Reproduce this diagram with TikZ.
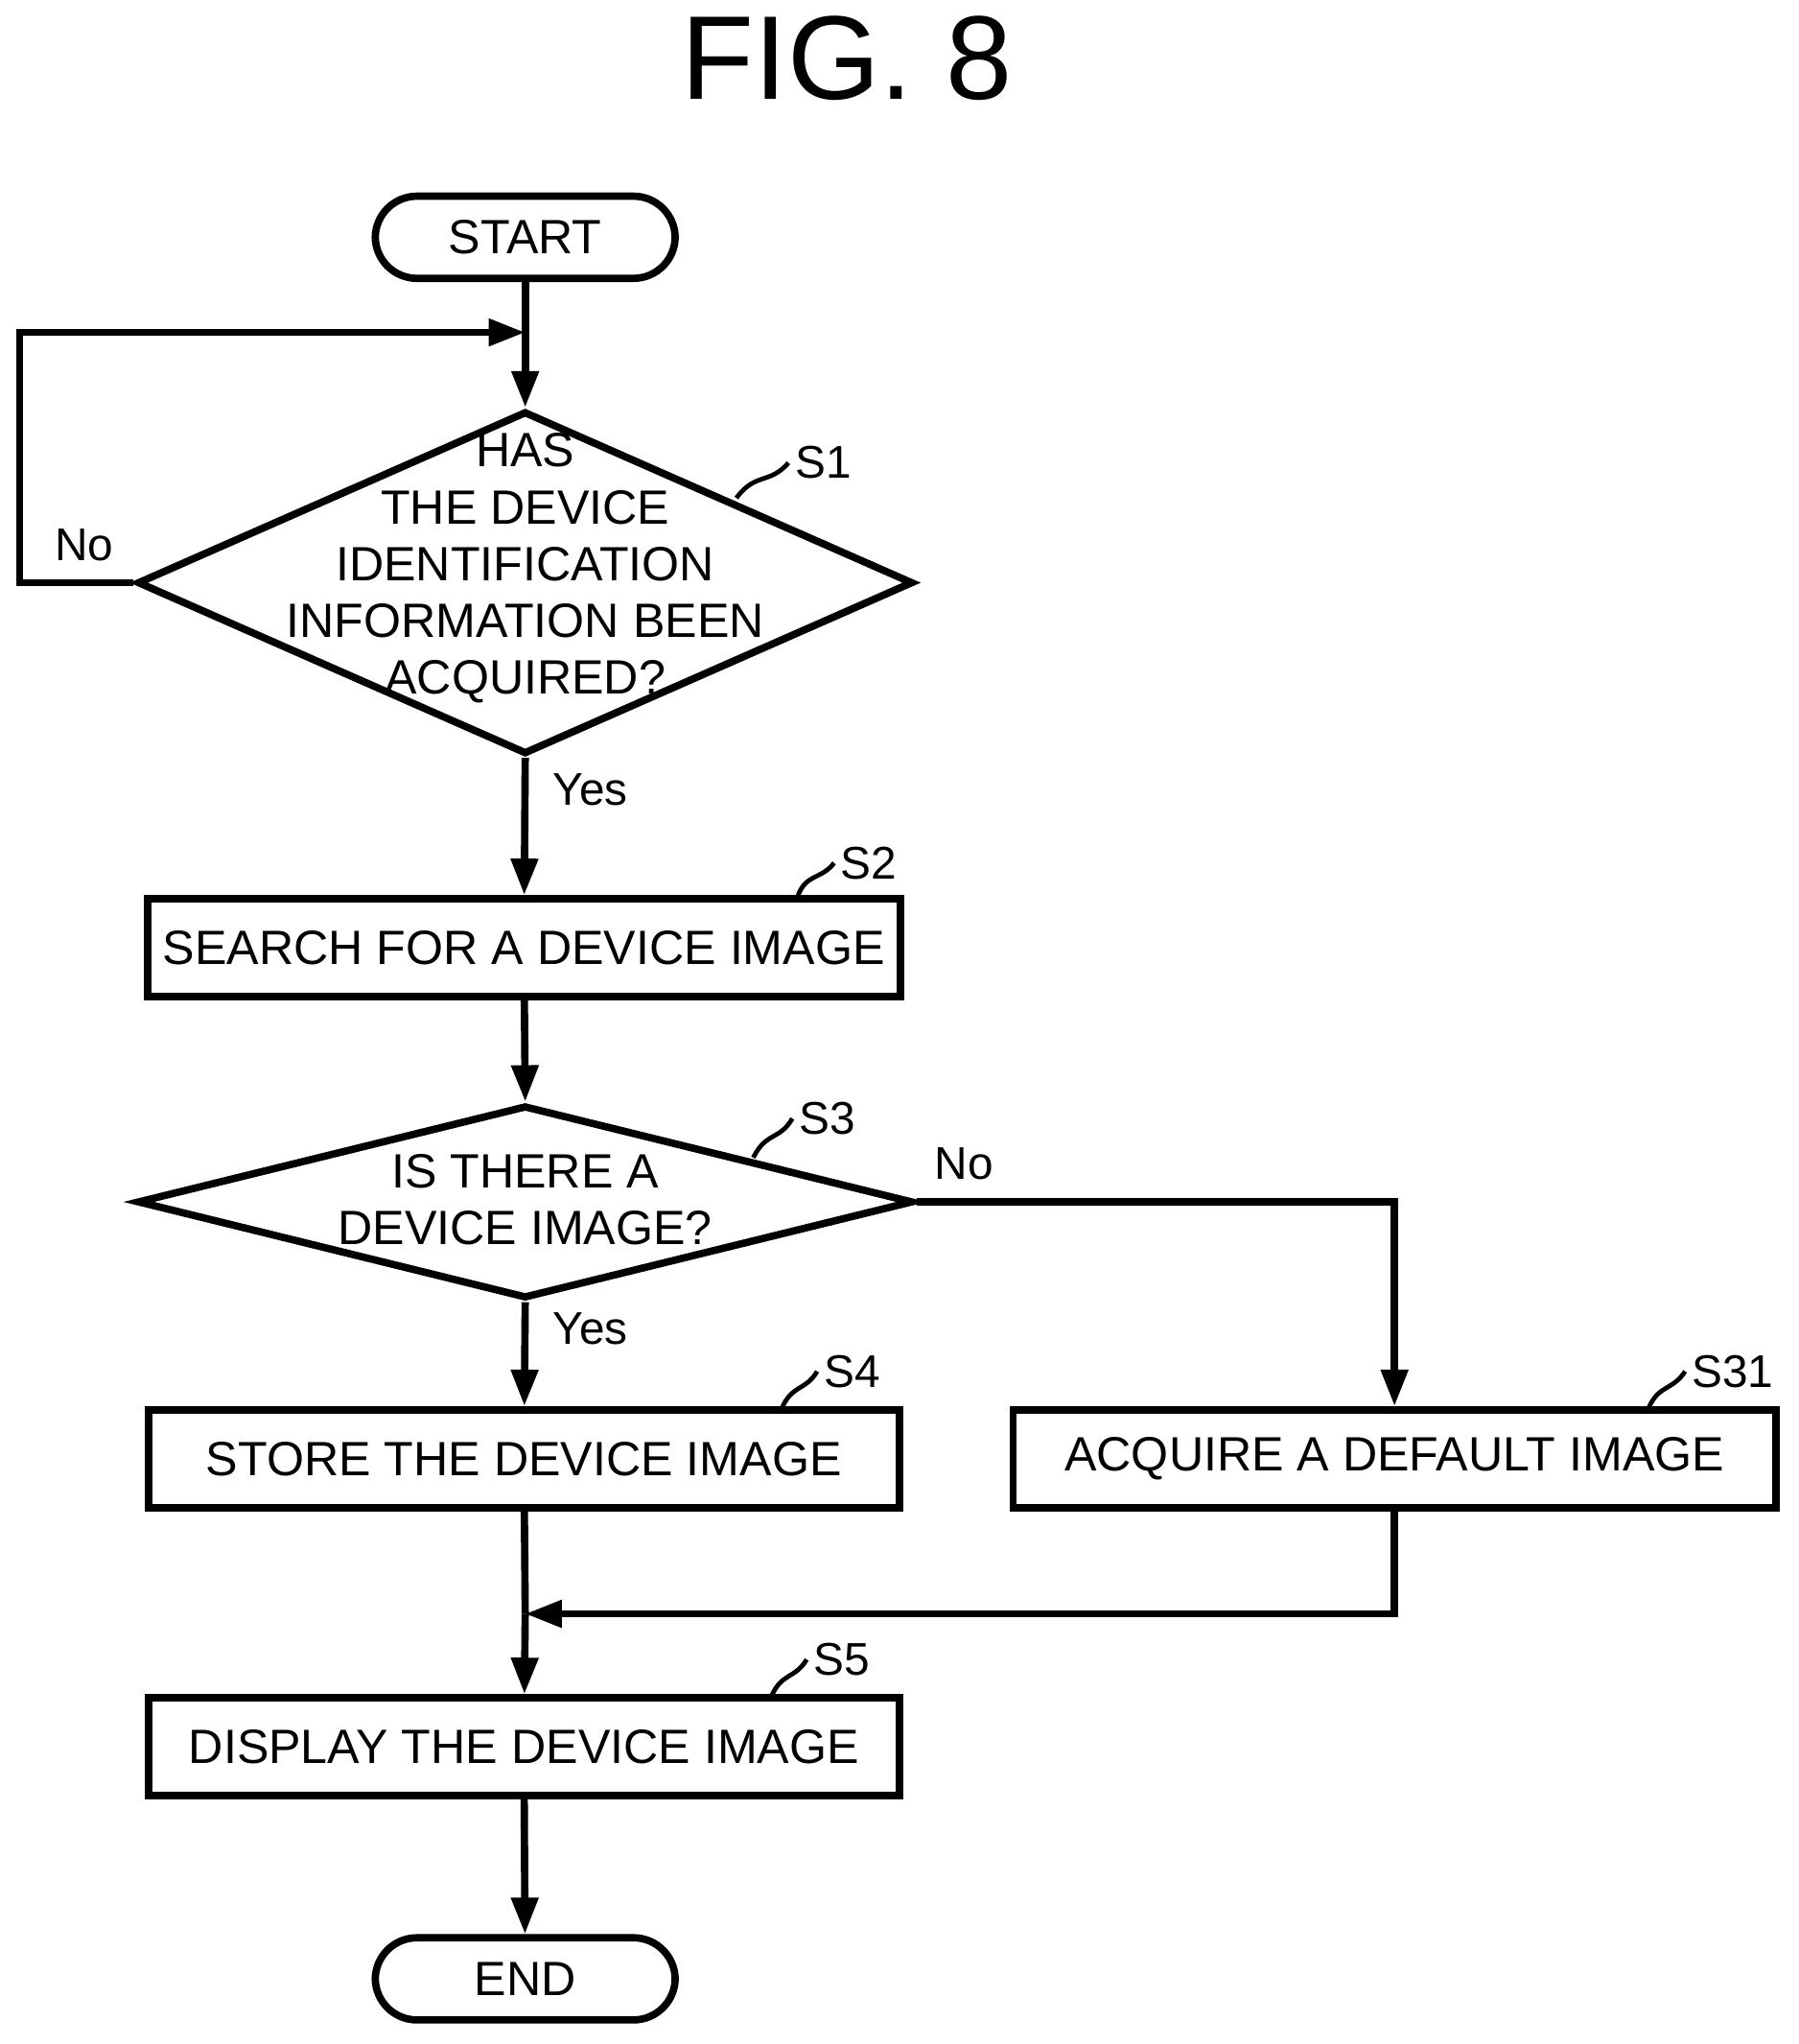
\documentclass[tikz,border=0pt]{standalone}
\usepackage{fontspec}
\setmainfont{Liberation Sans}
\usetikzlibrary{shapes.geometric,arrows.meta}
\tikzset{
  box/.style={draw,line width=1.6pt,minimum width=5.76cm,minimum height=0.75cm,font=\fontsize{10.5}{12}\selectfont},
  term/.style={draw,line width=1.6pt,rounded corners=0.32cm,minimum width=2.3cm,minimum height=0.63cm,font=\fontsize{10.5}{12}\selectfont},
  dia/.style={draw,diamond,line width=1.6pt,inner sep=0pt},
  txt/.style={font=\fontsize{10.5}{12.4}\selectfont,align=center},
  lbl/.style={font=\fontsize{10}{12}\selectfont,anchor=west,inner sep=1pt},
  flow/.style={line width=1.6pt,-{Triangle[length=0.28cm,width=0.2cm]}},
  line/.style={line width=1.6pt},
}
\begin{document}
\begin{tikzpicture}[x=0.01cm,y=-0.01cm]
\useasboundingbox (0,0) rectangle (1380,1568);
\node[font=\fontsize{26}{30}\selectfont] (title) at (650,45) {FIG. 8};
% nodes
\node[term] (start) at (403,182) {START};
\node[dia,minimum width=5.95cm,minimum height=2.63cm] (s1) at (403,447) {};
\node[txt] (s1t) at (403,436) {HAS\\THE DEVICE\\IDENTIFICATION\\INFORMATION BEEN\\ACQUIRED?};
\node[box] (s2) at (402,727) {SEARCH FOR A DEVICE IMAGE};
\node[dia,minimum width=5.95cm,minimum height=1.48cm] (s3) at (403,922) {};
\node[txt] (s3t) at (403,920) {IS THERE A\\DEVICE IMAGE?};
\node[box] (s4) at (402,1119) {STORE THE DEVICE IMAGE};
\node[box,minimum width=5.85cm] (s31) at (1070,1119) {ACQUIRE A DEFAULT IMAGE};
\node[box] (s5) at (402,1340) {DISPLAY THE DEVICE IMAGE};
\node[term] (end) at (403,1518) {END};
\coordinate (loop) at (403,255);
\coordinate (join) at (403,1238);
% connectors
\draw[line] (start) -- (loop);
\draw[flow] (loop) -- (s1.north);
\draw[flow] (s1.west) -- (15,447) -- (15,255) -- (loop);
\draw[flow] (s1.south) -- (s2);
\draw[flow] (s2) -- (s3.north);
\draw[flow] (s3.south) -- (s4);
\draw[flow] (s3.east) -| (s31);
\draw[line] (s4) -- (join);
\draw[flow] (join) -- (s5);
\draw[flow] (s31) |- (join);
\draw[flow] (s5) -- (end);
% labels
\node[lbl] at (38,418) {No};
\node[lbl] at (420,606) {Yes};
\node[lbl] at (420,1019) {Yes};
\node[lbl] at (713,893) {No};
\draw[line width=1pt] (565,382) .. controls (580,362) and (590,372) .. (605,355) node[lbl] {S1};
\draw[line width=1pt] (612,688) .. controls (618,670) and (630,675) .. (640,662) node[lbl] {S2};
\draw[line width=1pt] (578,888) .. controls (588,868) and (598,875) .. (608,858) node[lbl] {S3};
\draw[line width=1pt] (600,1080) .. controls (608,1062) and (618,1067) .. (627,1052) node[lbl] {S4};
\draw[line width=1pt] (1265,1080) .. controls (1273,1062) and (1283,1067) .. (1293,1052) node[lbl] {S31};
\draw[line width=1pt] (592,1301) .. controls (600,1283) and (610,1288) .. (619,1273) node[lbl] {S5};
\end{tikzpicture}
\end{document}
